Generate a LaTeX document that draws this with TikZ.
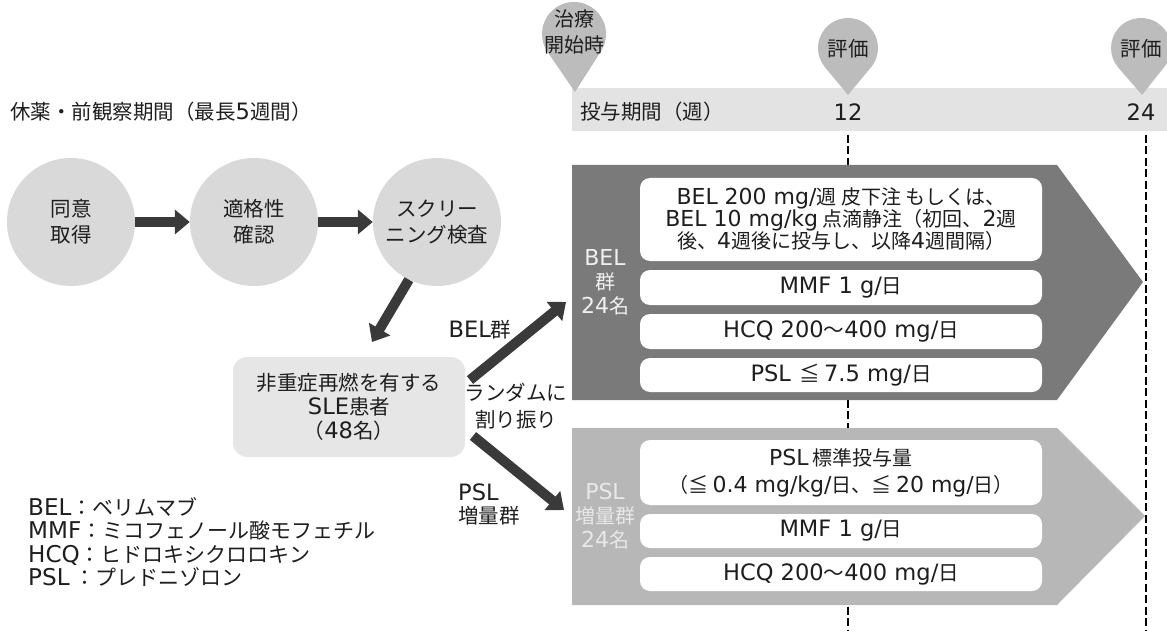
\documentclass[tikz,border=0pt]{standalone}
\usepackage{fontspec}
\setmainfont{Noto Sans CJK JP}
\newfontfamily\latf{DejaVu Sans}[Scale=1.1]
\newcommand{\lw}[1]{{\latf #1}}
\usetikzlibrary{arrows.meta,calc}
\definecolor{txtc}{HTML}{1E1E1E}
\definecolor{circg}{HTML}{D9D9D9}
\definecolor{bandg}{HTML}{E3E3E3}
\definecolor{ping}{HTML}{BCBCBC}
\definecolor{arrg}{HTML}{3A3A3A}
\definecolor{belg}{HTML}{7A7A7A}
\definecolor{pslg}{HTML}{B7B7B7}
\definecolor{sleg}{HTML}{E6E6E6}
\definecolor{lblbel}{HTML}{F0F0F0}
\definecolor{lblpsl}{HTML}{E8E8E8}
\begin{document}
\begin{tikzpicture}[x=1pt,y=1pt,
  every node/.style={text=txtc, font=\fontsize{20.5}{24}\selectfont, inner sep=0pt},
  stepcirc/.style={circle, fill=circg, minimum size=128pt, align=center, font=\fontsize{20.5}{26}\selectfont},
  bigarrow/.style={draw=arrg, line width=10pt, -{Triangle[length=15pt,width=24pt]}},
  wbox/.style={fill=white, rounded corners=10pt, minimum width=402pt, align=center},
  grplbl/.style={align=center, font=\fontsize{20}{24}\selectfont},
  pinfill/.style={fill=ping},
  vdash/.style={draw=black, line width=2.8pt, dash pattern=on 8pt off 3.5pt},
]
\useasboundingbox (0,0) rectangle (1167,-631);

% time band
\fill[bandg] (572,-88) rectangle (1167,-131);
\node[anchor=west] (lbl0) at (10,-112) {休薬・前観察期間（最長\lw{5}週間）};
\node[anchor=west] (lblT) at (580,-112) {投与期間（週）};
\node (w12) at (848,-112) {\lw{12}};
\node (w24) at (1141,-112) {\lw{24}};

% dashed lines
\coordinate (d12t) at (848,-135);
\coordinate (d12b) at (848,-631);
\coordinate (d24t) at (1146,-135);
\coordinate (d24b) at (1146,-631);
\draw[vdash] (d12t) -- (d12b);
\draw[vdash] (d24t) -- (d24b);

% pins
\fill[pinfill] (575,-92) -- ($(574,-34)+(-34:32)$) arc[start angle=-34, end angle=214, radius=32] -- cycle;
\node[align=center, font=\fontsize{20}{26}\selectfont] (p0) at (574,-32) {治療\\開始時};
\fill[pinfill] (848,-95) -- ($(848,-48)+(-40:30)$) arc[start angle=-40, end angle=220, radius=30] -- cycle;
\node (p1) at (848,-49) {評価};
\fill[pinfill] (1142,-95) -- ($(1141,-48)+(-40:30)$) arc[start angle=-40, end angle=220, radius=30] -- cycle;
\node (p2) at (1141,-49) {評価};

% step circles
\node[stepcirc] (c1) at (71,-222) {同意\\取得};
\node[stepcirc] (c2) at (254,-222) {適格性\\確認};
\node[stepcirc] (c3) at (437,-222) {スクリー\\ニング検査};
\draw[bigarrow] (c1) -- (c2);
\draw[bigarrow] (c2) -- (c3);

% SLE box
\node[fill=sleg, rounded corners=14pt, minimum width=232pt, minimum height=100pt, align=center, font=\fontsize{20.5}{24}\selectfont] (sle) at (349,-407) {非重症再燃を有する\\\lw{SLE}患者\\（\lw{48}名）};
\coordinate (a3e) at (372,-342);
\draw[bigarrow] (c3.244) -- (a3e);

% random allocation arrows
\coordinate (abs) at (470,-380);
\coordinate (abe) at (566,-302);
\coordinate (aps) at (473,-436);
\coordinate (ape) at (564,-510);
\draw[bigarrow] (abs) -- (abe);
\draw[bigarrow] (aps) -- (ape);
\node (lbel) at (480,-330) {\lw{BEL}群};
\node[align=center, font=\fontsize{20.5}{27}\selectfont] (lrand) at (516,-406) {ランダムに\\割り振り};
\node[anchor=west] (lpsl1) at (458,-492) {\lw{PSL}};
\node[anchor=west] (lpsl2) at (458,-516) {増量群};

% BEL group arrow
\fill[belg] (572,-165) -- (1057,-165) -- (1143,-282) -- (1057,-400) -- (572,-400) -- cycle;
\node[grplbl, text=lblbel] (gbel) at (605,-282) {\lw{BEL}\\群\\\lw{24}名};
\node[wbox, minimum height=83pt, font=\fontsize{20}{22}\selectfont] (b1) at (841,-219.5) {\lw{BEL 200 mg/}週 皮下注 もしくは、\\\lw{BEL 10 mg/kg} 点滴静注（初回、\lw{2}週\\後、\lw{4}週後に投与し、以降\lw{4}週間隔）};
\node[wbox, minimum height=35pt] (b2) at (841,-287.5) {\lw{MMF 1 g/}日};
\node[wbox, minimum height=35pt] (b3) at (841,-331.5) {\lw{HCQ 200}〜\lw{400 mg/}日};
\node[wbox, minimum height=34pt] (b4) at (841,-375) {\lw{PSL}\, ≦ \lw{7.5 mg/}日};

% PSL group arrow
\fill[pslg] (572,-428) -- (1057,-428) -- (1145,-516) -- (1057,-605) -- (572,-605) -- cycle;
\node[grplbl, text=lblpsl] (gpsl) at (605,-516) {\lw{PSL}\\増量群\\\lw{24}名};
\node[wbox, minimum height=65pt, font=\fontsize{20}{27}\selectfont] (q1) at (841,-472.5) {\lw{PSL} 標準投与量\\（≦ \lw{0.4 mg/kg/}日、≦ \lw{20 mg/}日）};
\node[wbox, minimum height=34pt] (q2) at (841,-531) {\lw{MMF 1 g/}日};
\node[wbox, minimum height=34pt] (q3) at (841,-574) {\lw{HCQ 200}〜\lw{400 mg/}日};

% legend
\node[anchor=west, align=left, font=\fontsize{21}{23.3}\selectfont] (legend) at (28,-542) {\lw{BEL}：ベリムマブ\\\lw{MMF}：ミコフェノール酸モフェチル\\\lw{HCQ}：ヒドロキシクロロキン\\\lw{PSL} ：プレドニゾロン};
\end{tikzpicture}
\end{document}
